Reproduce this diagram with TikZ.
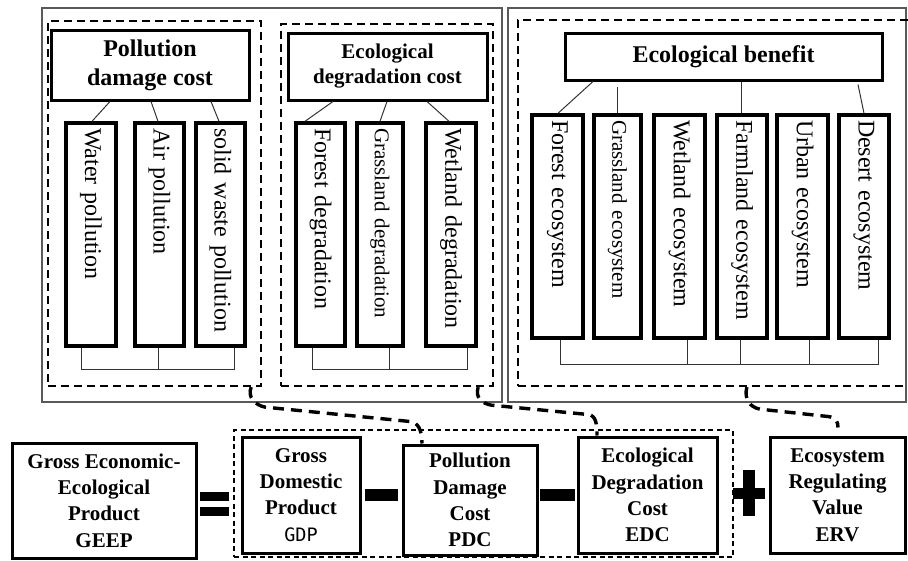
\documentclass[tikz,border=0pt]{standalone}
\usepackage{fontspec}
\setmainfont{Liberation Serif}
\newfontfamily\gdpfont{DejaVu Sans Mono}
\usetikzlibrary{calc}
\begin{document}
\begin{tikzpicture}[x=1pt,y=-1pt,
  outerbox/.style={draw=black!65, line width=1.2pt, inner sep=0pt},
  groupbox/.style={draw, line width=2.3pt, dash pattern=on 8pt off 5pt, inner sep=0pt},
  eqbox/.style={draw, line width=1.5pt, dash pattern=on 5pt off 3.5pt, inner sep=0pt},
  headbox/.style={draw, line width=3pt, inner sep=0pt, align=center},
  childbox/.style={draw, line width=3.4pt, rotate=-90, inner xsep=5pt, inner ysep=0pt,
     minimum width=223pt, text width=213pt, align=left, font=\fontsize{24}{28}\selectfont},
  smalltext/.style={font=\fontsize{21}{25}\selectfont},
  termbox/.style={draw, line width=3pt, inner sep=0pt, align=center,
     font=\fontsize{21}{26.3}\selectfont\bfseries},
  link/.style={line width=1pt, draw=black!80},
  flow/.style={line width=3.4pt, dash pattern=on 11pt off 7pt},
  opbar/.style={fill=black}
]
\useasboundingbox (0,0) rectangle (908,560);
\clip (0,0) rectangle (908,560);

% outer frames
\node[outerbox, minimum width=460pt, minimum height=394pt] (louter) at (272,205) {};
\node[outerbox, minimum width=398pt, minimum height=394pt] (router) at (707,205) {};

% group frames
\node[groupbox, minimum width=213pt, minimum height=365pt] (pgrp) at (154.5,203.5) {};
\node[groupbox, minimum width=212pt, minimum height=362pt] (dgrp) at (387,205) {};
\node[groupbox, minimum width=402pt, minimum height=366pt] (bgrp) at (719,203) {};

% headers
\node[headbox, minimum width=198pt, minimum height=70pt, font=\fontsize{24}{29}\selectfont\bfseries]
  (ph) at (150,65) {Pollution\\damage cost};
\node[headbox, minimum width=199pt, minimum height=67pt, font=\fontsize{21}{25}\selectfont\bfseries]
  (dh) at (387.5,66.5) {Ecological\\degradation cost};
\node[headbox, minimum width=317pt, minimum height=47pt, font=\fontsize{24}{29}\selectfont\bfseries]
  (bh) at (723.5,56.5) {Ecological benefit};

% pollution children
\node[childbox, minimum height=50pt] (water) at (91,234.5) {Water pollution};
\node[childbox, minimum height=49pt] (air) at (159.5,234.5) {Air pollution};
\node[childbox, minimum height=49pt] (solid) at (220.5,234.5) {solid waste pollution};

% degradation children
\node[childbox, minimum height=49pt] (fdeg) at (320.5,234.5) {Forest degradation};
\node[childbox, smalltext, minimum height=46pt] (gdeg) at (380,234.5) {Grassland degradation};
\node[childbox, minimum height=50pt] (wdeg) at (451,234.5) {Wetland degradation};

% benefit children
\node[childbox, minimum height=51pt] (feco) at (557.5,226.5) {Forest ecosystem};
\node[childbox, smalltext, minimum height=47pt] (geco) at (617.5,226.5) {Grassland ecosystem};
\node[childbox, minimum height=51pt] (weco) at (679.5,226.5) {Wetland ecosystem};
\node[childbox, minimum height=50pt] (faeco) at (742,226.5) {Farmland ecosystem};
\node[childbox, minimum height=51pt] (ueco) at (802.5,226.5) {Urban ecosystem};
\node[childbox, minimum height=50pt] (deco) at (864,226.5) {Desert ecosystem};

% header-to-child links
\draw[link] ([xshift=-40pt]ph.south) -- ([xshift=1pt]water.west);
\draw[link] ([xshift=1pt]ph.south) -- ([xshift=-1.5pt]air.west);
\draw[link] ([xshift=61pt]ph.south) -- ([xshift=-1.5pt]solid.west);

\draw[link] ([xshift=-54.5pt]dh.south) -- ([xshift=-15.5pt]fdeg.west);
\draw[link] ([xshift=-0.5pt]dh.south) -- (gdeg.west);
\draw[link] ([xshift=39.5pt]dh.south) -- ([xshift=-2pt]wdeg.west);

\draw[link] ([xshift=-130.5pt]bh.south) -- ([xshift=0.5pt]feco.west);
\draw[link] ([xshift=-106.5pt,yshift=-5pt]bh.south) -- ([xshift=-0.5pt]geco.west);
\draw[link] ([xshift=17.5pt]bh.south) -- ([xshift=-1pt]faeco.west);
\draw[link] ([xshift=134.5pt,yshift=-3pt]bh.south) -- (deco.west);

% bottom buses
\draw[link] ([xshift=-10pt]water.east) -- ++(0,22) -| ([xshift=13.5pt]solid.east);
\draw[link] ([xshift=-1.5pt]air.east) -- ++(0,22);

\draw[link] ([xshift=-8.5pt]fdeg.east) -- ++(0,22) -| ([xshift=16pt]wdeg.east);
\draw[link] ([xshift=9pt]gdeg.east) -- ++(0,22);

\draw[link] ([xshift=2.5pt]feco.east) -- ++(0,25) -| ([xshift=14pt]deco.east);
\draw[link] ([xshift=7.5pt]weco.east) -- ++(0,25);
\draw[link] ([xshift=-2pt]faeco.east) -- ++(0,25);
\draw[link] ([xshift=6.5pt]ueco.east) -- ++(0,25);

% equation row
\node[eqbox, minimum width=499pt, minimum height=127pt] (eqgrp) at (483.5,493.5) {};
\node[termbox, minimum width=184pt, minimum height=115pt] (geep) at (104,500.5)
  {Gross Economic-\\Ecological\\Product\\GEEP};
\node[termbox, minimum width=118pt, minimum height=116pt] (gdp) at (301,495)
  {Gross\\Domestic\\Product\\{\gdpfont\mdseries\fontsize{18.5}{26.3}\selectfont GDP}};
\node[termbox, minimum width=134pt, minimum height=110pt] (pdc) at (470,500)
  {Pollution\\Damage\\Cost\\PDC};
\node[termbox, minimum width=139pt, minimum height=116pt] (edc) at (647.5,495)
  {Ecological\\Degradation\\Cost\\EDC};
\node[termbox, minimum width=135pt, minimum height=116pt] (erv) at (837.5,495)
  {Ecosystem\\Regulating\\Value\\ERV};

% operators
\fill[opbar] (200,492) rectangle (229,501);
\fill[opbar] (200,507) rectangle (229,516);
\fill[opbar] (365,489) rectangle (398,501);
\fill[opbar] (540,489) rectangle (575,501);
\fill[opbar] (733,488) rectangle (765,499);
\fill[opbar] (743,470) rectangle (755,516);

% dashed flows from groups to terms
\draw[flow] ([xshift=-11pt]pgrp.south east) .. controls +(-4,10) and +(-10,-2) .. ++(14,20)
  -- ([xshift=-60pt,yshift=22pt]pdc.north) .. controls +(8,1) and +(0,-14) .. ([xshift=-48pt]pdc.north);
\draw[flow] ([xshift=-16pt]dgrp.south east) .. controls +(-3,10) and +(-10,-2) .. ++(13,18)
  -- ([xshift=-59.5pt,yshift=21pt]edc.north) .. controls +(8,1) and +(0,-12) .. ([xshift=-50.5pt]edc.north);
\draw[flow] ([xshift=230pt]bgrp.south west) .. controls +(-3,12) and +(-10,-2) .. ++(13,22)
  -- ([xshift=-9.5pt,yshift=19pt]erv.north) .. controls +(8,1) and +(0,-6) .. ([xshift=0.5pt,yshift=8pt]erv.north);
\end{tikzpicture}
\end{document}
